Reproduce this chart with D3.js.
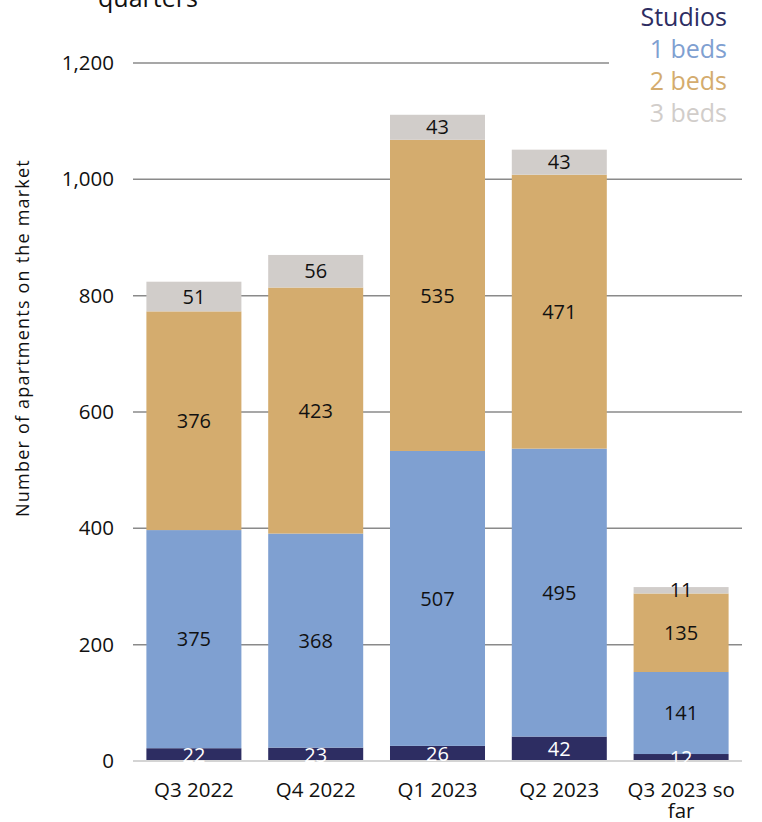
<!DOCTYPE html>
<html>
<head>
<meta charset="utf-8">
<script src="https://cdn.jsdelivr.net/npm/d3@7"></script>
<style>
  html, body { margin: 0; padding: 0; background: #fff; }
  svg { display: block; font-family: "Open Sans", Lato, sans-serif; font-weight: 400; }
</style>
</head>
<body>
<svg id="chart" width="762" height="822"></svg>
<script>
// Apartments on the market by quarter and unit type
const quarters = ["Q3 2022", "Q4 2022", "Q1 2023", "Q2 2023", "Q3 2023 so far"];
const seriesNames = ["Studios", "1 beds", "2 beds", "3 beds"];
const studios = [22, 23, 26, 42, 12];
const oneBeds = [375, 368, 507, 495, 141];
const twoBeds = [376, 423, 535, 471, 135];
const threeBeds = [51, 56, 43, 43, 11];
const yTicks = [0, 200, 400, 600, 800, 1000, 1200];

const colors = ["#2d2d62", "#7fa0d1", "#d4ac6e", "#d1cdca"];
const labelColors = ["#ffffff", "#111111", "#111111", "#111111"];

const rows = quarters.map((q, i) => ({
  quarter: q,
  "Studios": studios[i],
  "1 beds": oneBeds[i],
  "2 beds": twoBeds[i],
  "3 beds": threeBeds[i]
}));

const svg = d3.select("#chart");
const plotLeft = 133, plotRight = 742, plotTop = 63, plotBottom = 761;

const x = d3.scaleBand().domain(quarters).range([plotLeft, plotRight])
  .paddingInner(0.22).paddingOuter(0.11);
const y = d3.scaleLinear().domain([0, 1200]).range([plotBottom, plotTop]);

// Title fragment above the plot
svg.append("text").attr("x", 148).attr("y", 7)
  .attr("text-anchor", "middle").attr("font-size", 25).attr("fill", "#111")
  .text("quarters");

// Gridlines
const grid = svg.append("g");
yTicks.filter(t => t > 0).forEach(t => {
  grid.append("line")
    .attr("x1", plotLeft).attr("x2", t === 1200 ? 609 : plotRight)
    .attr("y1", y(t)).attr("y2", y(t))
    .attr("stroke", "#8a8a8a").attr("stroke-width", 1.5);
});

// Y axis labels
const yAxis = d3.axisLeft(y).tickValues(yTicks).tickSize(0).tickPadding(0)
  .tickFormat(d3.format(","));
svg.append("g").attr("transform", `translate(114,0)`).call(yAxis)
  .call(g => g.select(".domain").remove())
  .call(g => g.selectAll("text").attr("font-size", 20.5).attr("fill", "#111")
    .attr("font-family", "'Open Sans', Lato, sans-serif"));

// Y axis title
svg.append("text")
  .attr("transform", `translate(29,338) rotate(-90)`)
  .attr("text-anchor", "middle").attr("font-size", 18).attr("fill", "#111")
  .attr("letter-spacing", 1.2)
  .text("Number of apartments on the market");

// Stacked bars
const stack = d3.stack().keys(seriesNames)(rows);
const layers = svg.append("g").selectAll("g").data(stack).join("g")
  .attr("fill", (d, i) => colors[i]);
layers.selectAll("rect").data(d => d).join("rect")
  .attr("x", d => x(d.data.quarter))
  .attr("width", x.bandwidth())
  .attr("y", d => y(d[1]))
  .attr("height", d => y(d[0]) - y(d[1]));

// Zero line
svg.append("line").attr("x1", plotLeft).attr("x2", plotRight)
  .attr("y1", y(0)).attr("y2", y(0))
  .attr("stroke", "#d4d4d4").attr("stroke-width", 2);

// Segment value labels
stack.forEach((layer, i) => {
  svg.append("g").selectAll("text").data(layer).join("text")
    .attr("x", d => x(d.data.quarter) + x.bandwidth() / 2)
    .attr("y", d => (y(d[0]) + y(d[1])) / 2)
    .attr("dy", "0.36em")
    .attr("text-anchor", "middle")
    .attr("font-size", 20)
    .attr("fill", labelColors[i])
    .text(d => d[1] - d[0]);
});

// X axis labels (the last one wraps onto two lines)
const xl = svg.append("g");
quarters.forEach(q => {
  const cx = x(q) + x.bandwidth() / 2;
  if (q === "Q3 2023 so far") {
    xl.append("text").attr("x", cx).attr("y", 797)
      .attr("text-anchor", "middle").attr("font-size", 20.5).attr("fill", "#111")
      .text("Q3 2023 so");
    xl.append("text").attr("x", cx).attr("y", 818)
      .attr("text-anchor", "middle").attr("font-size", 20.5).attr("fill", "#111")
      .text("far");
  } else {
    xl.append("text").attr("x", cx).attr("y", 797)
      .attr("text-anchor", "middle").attr("font-size", 20.5).attr("fill", "#111")
      .text(q);
  }
});

// Legend
const legend = svg.append("g");
seriesNames.forEach((s, i) => {
  legend.append("text").attr("x", 727).attr("y", 26 + i * 32)
    .attr("text-anchor", "end").attr("font-size", 25)
    .attr("fill", colors[i]).text(s);
});
</script>
</body>
</html>
